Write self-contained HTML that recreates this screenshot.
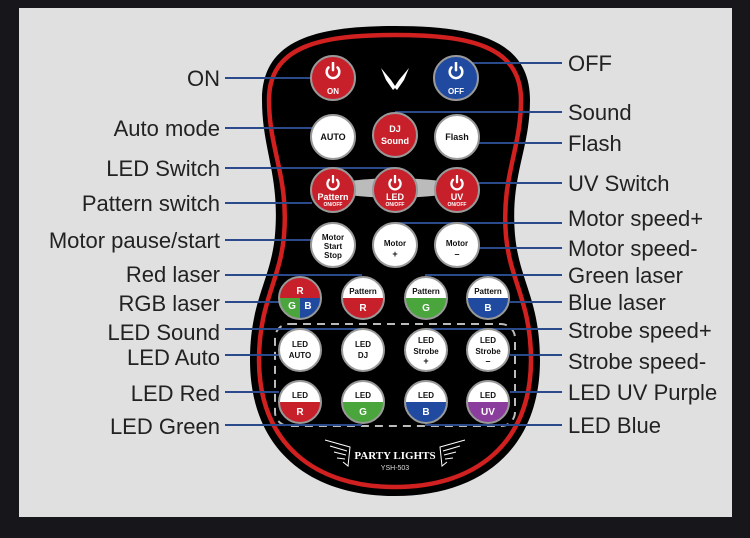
<!DOCTYPE html>
<html><head><meta charset="utf-8"><style>
html,body{margin:0;padding:0;background:#17171b;}
svg{display:block}
.l{font-family:"Liberation Sans",sans-serif;font-size:22px;fill:#222}
.b{font-family:"Liberation Sans",sans-serif;font-weight:bold;fill:#111;text-anchor:middle}
.w{fill:#fff}
</style></head><body>
<svg width="750" height="538" viewBox="0 0 750 538" xmlns="http://www.w3.org/2000/svg">
<defs>
<symbol id="pw" viewBox="-10 -10 20 20"><path d="M-5,-4 A7,7 0 1 0 5,-4" fill="none" stroke="#fff" stroke-width="2.8" stroke-linecap="round"/><line x1="0" y1="-9" x2="0" y2="-1" stroke="#fff" stroke-width="2.8" stroke-linecap="round"/></symbol>
</defs>
<rect x="19" y="8" width="713" height="509" fill="#e0e0e0"/>
<path d="M395,26 C475,26 530,40 530,100 C530,150 510,175 515,235 C519,280 540,300 540,360 C540,450 480,496 395,496 C310,496 250,450 250,360 C250,300 271,280 275,235 C280,175 262,150 262,100 C262,40 315,26 395,26 Z" fill="#000"/>
<path d="M395,35 C470,35 521,46 521,100 C521,150 501,177 506,236 C510,281 531,302 531,360 C531,444 475,487 395,487 C315,487 259,444 259,360 C259,302 280,281 284,236 C289,177 269,150 269,100 C269,46 320,35 395,35 Z" fill="none" stroke="#d0201f" stroke-width="4.5"/>
<path d="M320,188 C350,175 440,175 470,188 C440,201 350,201 320,188 Z" fill="#bbb"/>
<rect x="275" y="324" width="240" height="102" rx="14" fill="none" stroke="#bbb" stroke-width="2" stroke-dasharray="8,6"/>
<g stroke="#2b4a8c" stroke-width="2">
<line x1="225" y1="78" x2="312" y2="78"/>
<line x1="225" y1="128" x2="312" y2="128"/>
<line x1="225" y1="168" x2="395" y2="168"/>
<line x1="225" y1="203" x2="312" y2="203"/>
<line x1="225" y1="240" x2="312" y2="240"/>
<line x1="225" y1="275" x2="362" y2="275"/>
<line x1="225" y1="302" x2="279" y2="302"/>
<line x1="225" y1="329" x2="362" y2="329"/>
<line x1="225" y1="355" x2="279" y2="355"/>
<line x1="225" y1="392" x2="279" y2="392"/>
<line x1="225" y1="425" x2="362" y2="425"/>
<line x1="470" y1="63" x2="562" y2="63"/>
<line x1="395" y1="112" x2="562" y2="112"/>
<line x1="477" y1="143" x2="562" y2="143"/>
<line x1="479" y1="183" x2="562" y2="183"/>
<line x1="395" y1="223" x2="562" y2="223"/>
<line x1="479" y1="248" x2="562" y2="248"/>
<line x1="425" y1="275" x2="562" y2="275"/>
<line x1="510" y1="302" x2="562" y2="302"/>
<line x1="425" y1="329" x2="562" y2="329"/>
<line x1="510" y1="355" x2="562" y2="355"/>
<line x1="510" y1="392" x2="562" y2="392"/>
<line x1="425" y1="425" x2="562" y2="425"/>
</g>
<g class="l" text-anchor="end">
<text x="220" y="86">ON</text>
<text x="220" y="136">Auto mode</text>
<text x="220" y="176">LED Switch</text>
<text x="220" y="211">Pattern switch</text>
<text x="220" y="248">Motor pause/start</text>
<text x="220" y="282">Red laser</text>
<text x="220" y="311">RGB laser</text>
<text x="220" y="340">LED Sound</text>
<text x="220" y="365">LED Auto</text>
<text x="220" y="401">LED Red</text>
<text x="220" y="434">LED Green</text>
</g>
<g class="l">
<text x="568" y="71">OFF</text>
<text x="568" y="120">Sound</text>
<text x="568" y="151">Flash</text>
<text x="568" y="191">UV Switch</text>
<text x="568" y="226">Motor speed+</text>
<text x="568" y="256">Motor speed-</text>
<text x="568" y="283">Green laser</text>
<text x="568" y="310">Blue laser</text>
<text x="568" y="338">Strobe speed+</text>
<text x="568" y="369">Strobe speed-</text>
<text x="568" y="400">LED UV Purple</text>
<text x="568" y="433">LED Blue</text>
</g>
<circle cx="333" cy="78" r="22" fill="#c8202a" stroke="#999" stroke-width="2"/>
<use href="#pw" x="324" y="62" width="18" height="18"/>
<text class="b w" x="333" y="94" font-size="8">ON</text>
<circle cx="456" cy="78" r="22" fill="#1f4aa0" stroke="#999" stroke-width="2"/>
<use href="#pw" x="447" y="62" width="18" height="18"/>
<text class="b w" x="456" y="94" font-size="8">OFF</text>
<path d="M381,68 L391,80 L395,86 L399,80 L409,68 L404,80 L397,90 L395,88 L393,90 L386,80 Z" fill="#fff"/>
<circle cx="333" cy="137" r="22" fill="#fff" stroke="#999" stroke-width="2"/>
<text class="b" x="333" y="140" font-size="9">AUTO</text>
<circle cx="395" cy="135" r="22" fill="#c8202a" stroke="#999" stroke-width="2"/>
<text class="b w" x="395" y="132" font-size="9">DJ</text>
<text class="b w" x="395" y="144" font-size="9">Sound</text>
<circle cx="457" cy="137" r="22" fill="#fff" stroke="#999" stroke-width="2"/>
<text class="b" x="457" y="140" font-size="9">Flash</text>
<circle cx="333" cy="190" r="22" fill="#c8202a" stroke="#999" stroke-width="2"/>
<use href="#pw" x="325" y="175" width="16" height="16"/>
<text class="b w" x="333" y="200" font-size="9">Pattern</text>
<text class="b w" x="333" y="206" font-size="5">ON/OFF</text>
<circle cx="395" cy="190" r="22" fill="#c8202a" stroke="#999" stroke-width="2"/>
<use href="#pw" x="387" y="175" width="16" height="16"/>
<text class="b w" x="395" y="200" font-size="9">LED</text>
<text class="b w" x="395" y="206" font-size="5">ON/OFF</text>
<circle cx="457" cy="190" r="22" fill="#c8202a" stroke="#999" stroke-width="2"/>
<use href="#pw" x="449" y="175" width="16" height="16"/>
<text class="b w" x="457" y="200" font-size="9">UV</text>
<text class="b w" x="457" y="206" font-size="5">ON/OFF</text>
<circle cx="333" cy="245" r="22" fill="#fff" stroke="#999" stroke-width="2"/>
<text class="b" x="333" y="240" font-size="8">Motor</text>
<text class="b" x="333" y="249" font-size="8">Start</text>
<text class="b" x="333" y="258" font-size="8">Stop</text>
<circle cx="395" cy="245" r="22" fill="#fff" stroke="#999" stroke-width="2"/>
<text class="b" x="395" y="246" font-size="8">Motor</text>
<text class="b" x="395" y="257" font-size="9">+</text>
<circle cx="457" cy="245" r="22" fill="#fff" stroke="#999" stroke-width="2"/>
<text class="b" x="457" y="246" font-size="8">Motor</text>
<text class="b" x="457" y="257" font-size="9">–</text>
<clipPath id="c1"><circle cx="300" cy="298" r="21"/></clipPath>
<g clip-path="url(#c1)"><rect x="278" y="276" width="44" height="22" fill="#c8202a"/><rect x="278" y="298" width="22" height="22" fill="#4aa63c"/><rect x="300" y="298" width="22" height="22" fill="#1f4aa0"/></g>
<circle cx="300" cy="298" r="21" fill="none" stroke="#999" stroke-width="2"/>
<text class="b w" x="300" y="294" font-size="10">R</text>
<text class="b w" x="292" y="309" font-size="10">G</text>
<text class="b w" x="308" y="309" font-size="10">B</text>
<clipPath id="c2"><circle cx="363" cy="298" r="21"/></clipPath>
<g clip-path="url(#c2)"><rect x="340" y="276" width="46" height="22" fill="#fff"/><rect x="340" y="298" width="46" height="22" fill="#c8202a"/></g>
<circle cx="363" cy="298" r="21" fill="none" stroke="#999" stroke-width="2"/>
<text class="b" x="363" y="294" font-size="8">Pattern</text><text class="b w" x="363" y="311" font-size="10">R</text>
<clipPath id="c3"><circle cx="426" cy="298" r="21"/></clipPath>
<g clip-path="url(#c3)"><rect x="403" y="276" width="46" height="22" fill="#fff"/><rect x="403" y="298" width="46" height="22" fill="#4aa63c"/></g>
<circle cx="426" cy="298" r="21" fill="none" stroke="#999" stroke-width="2"/>
<text class="b" x="426" y="294" font-size="8">Pattern</text><text class="b w" x="426" y="311" font-size="10">G</text>
<clipPath id="c4"><circle cx="488" cy="298" r="21"/></clipPath>
<g clip-path="url(#c4)"><rect x="465" y="276" width="46" height="22" fill="#fff"/><rect x="465" y="298" width="46" height="22" fill="#1f4aa0"/></g>
<circle cx="488" cy="298" r="21" fill="none" stroke="#999" stroke-width="2"/>
<text class="b" x="488" y="294" font-size="8">Pattern</text><text class="b w" x="488" y="311" font-size="10">B</text>
<circle cx="300" cy="350" r="21" fill="#fff" stroke="#999" stroke-width="2"/>
<text class="b" x="300" y="347" font-size="8">LED</text><text class="b" x="300" y="358" font-size="8">AUTO</text>
<circle cx="363" cy="350" r="21" fill="#fff" stroke="#999" stroke-width="2"/>
<text class="b" x="363" y="347" font-size="8">LED</text><text class="b" x="363" y="358" font-size="8">DJ</text>
<circle cx="426" cy="350" r="21" fill="#fff" stroke="#999" stroke-width="2"/>
<text class="b" x="426" y="343" font-size="8">LED</text><text class="b" x="426" y="354" font-size="8">Strobe</text><text class="b" x="426" y="364" font-size="9">+</text>
<circle cx="488" cy="350" r="21" fill="#fff" stroke="#999" stroke-width="2"/>
<text class="b" x="488" y="343" font-size="8">LED</text><text class="b" x="488" y="354" font-size="8">Strobe</text><text class="b" x="488" y="364" font-size="9">–</text>
<clipPath id="d1"><circle cx="300" cy="402" r="21"/></clipPath>
<g clip-path="url(#d1)"><rect x="277" y="380" width="46" height="22" fill="#fff"/><rect x="277" y="402" width="46" height="22" fill="#c8202a"/></g>
<circle cx="300" cy="402" r="21" fill="none" stroke="#999" stroke-width="2"/>
<text class="b" x="300" y="398" font-size="8">LED</text><text class="b w" x="300" y="415" font-size="10">R</text>
<clipPath id="d2"><circle cx="363" cy="402" r="21"/></clipPath>
<g clip-path="url(#d2)"><rect x="340" y="380" width="46" height="22" fill="#fff"/><rect x="340" y="402" width="46" height="22" fill="#4aa63c"/></g>
<circle cx="363" cy="402" r="21" fill="none" stroke="#999" stroke-width="2"/>
<text class="b" x="363" y="398" font-size="8">LED</text><text class="b w" x="363" y="415" font-size="10">G</text>
<clipPath id="d3"><circle cx="426" cy="402" r="21"/></clipPath>
<g clip-path="url(#d3)"><rect x="403" y="380" width="46" height="22" fill="#fff"/><rect x="403" y="402" width="46" height="22" fill="#1f4aa0"/></g>
<circle cx="426" cy="402" r="21" fill="none" stroke="#999" stroke-width="2"/>
<text class="b" x="426" y="398" font-size="8">LED</text><text class="b w" x="426" y="415" font-size="10">B</text>
<clipPath id="d4"><circle cx="488" cy="402" r="21"/></clipPath>
<g clip-path="url(#d4)"><rect x="465" y="380" width="46" height="22" fill="#fff"/><rect x="465" y="402" width="46" height="22" fill="#8a3d9c"/></g>
<circle cx="488" cy="402" r="21" fill="none" stroke="#999" stroke-width="2"/>
<text class="b" x="488" y="398" font-size="8">LED</text><text class="b w" x="488" y="415" font-size="10">UV</text>
<g fill="none" stroke="#fff" stroke-width="1">
<path d="M325,440 L350,447 L348,466 L343,462 M330,446 L347,451 M334,452 L346,455 M337,458 L345,459"/>
<path d="M465,440 L440,447 L442,466 L447,462 M460,446 L443,451 M456,452 L444,455 M453,458 L445,459"/>
</g>
<text x="395" y="459" text-anchor="middle" font-family="Liberation Serif,serif" font-weight="bold" font-size="11" fill="#fff">PARTY LIGHTS</text>
<text x="395" y="470" text-anchor="middle" font-family="Liberation Sans,sans-serif" font-size="7" fill="#ddd">YSH-503</text>
</svg>
</body></html>
